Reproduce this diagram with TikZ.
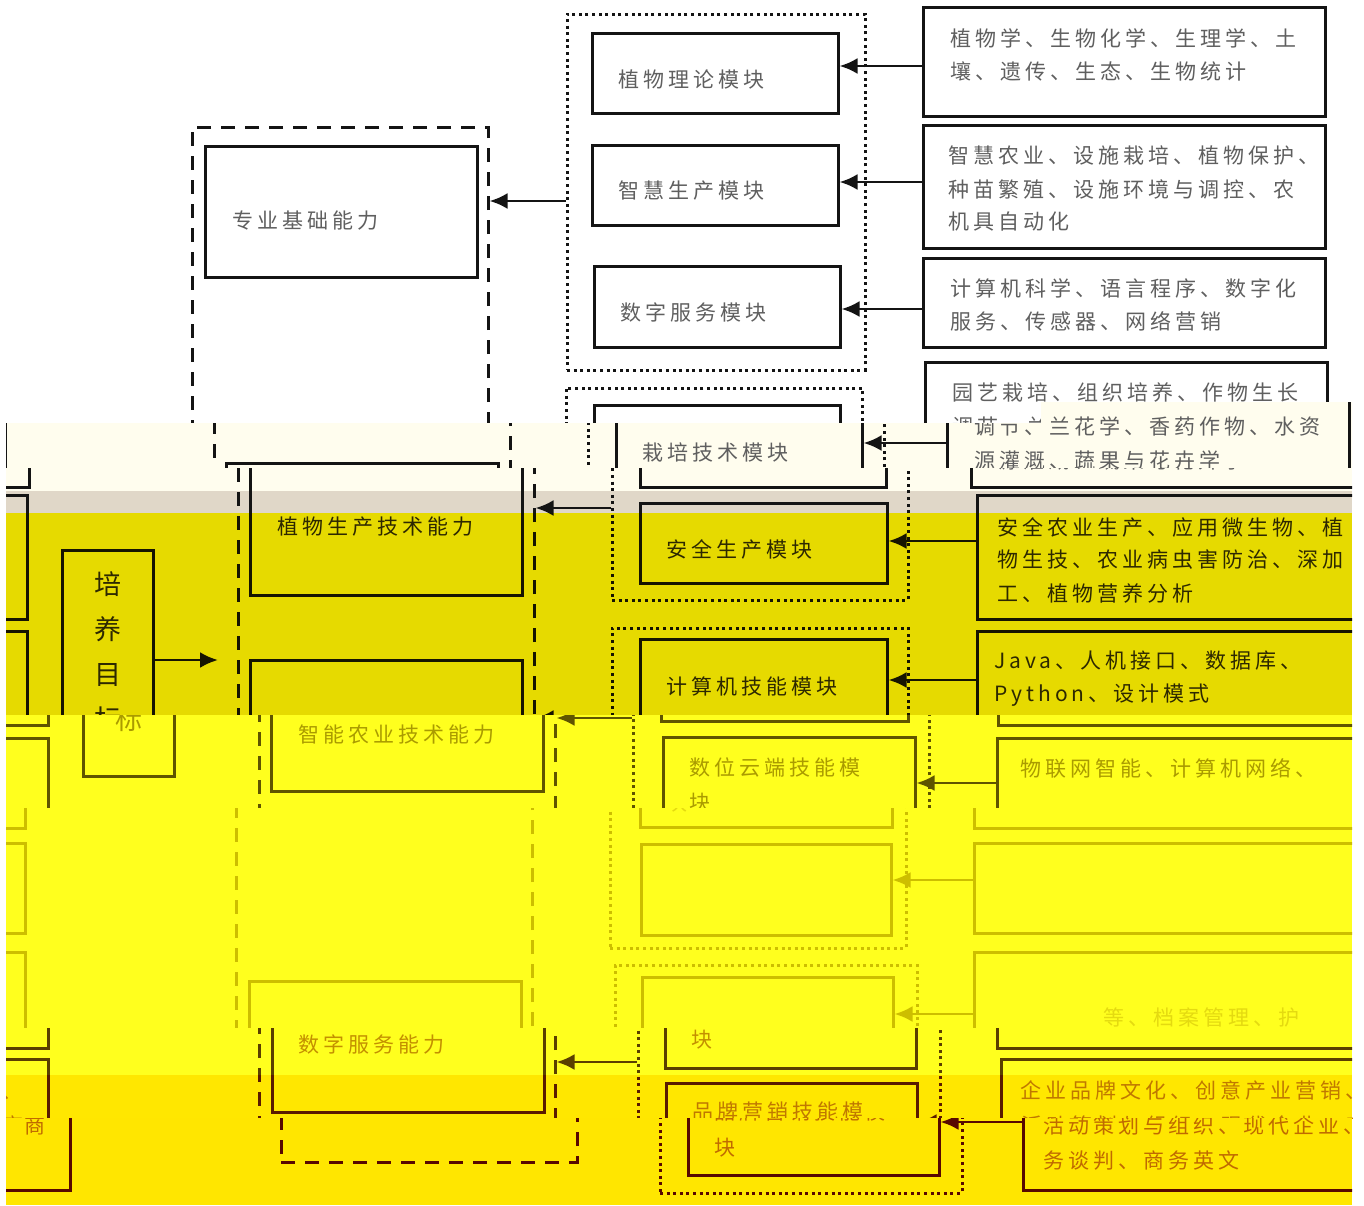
\documentclass[tikz,border=0pt]{standalone}
\usepackage{fontspec}
\usetikzlibrary{arrows.meta}
\newfontfamily\cjk[LetterSpace=19]{Noto Sans CJK SC}
\newfontfamily\cjkg{Noto Sans CJK SC}
\colorlet{sc}{black}
\colorlet{tc}{black}
\definecolor{bgB}{RGB}{255,253,238}
\definecolor{bgC}{RGB}{224,215,200}
\definecolor{bgD}{RGB}{230,218,0}
\definecolor{bgE}{RGB}{255,255,30}
\definecolor{bgH}{RGB}{255,231,0}
\definecolor{bgI}{RGB}{255,230,0}
\definecolor{sA}{RGB}{20,20,20}
\definecolor{tA}{RGB}{95,95,95}
\definecolor{sD}{RGB}{22,20,0}
\definecolor{tD}{RGB}{45,40,0}
\definecolor{sE}{RGB}{95,84,0}
\definecolor{tE}{RGB}{170,155,0}
\definecolor{sF}{RGB}{205,190,0}
\definecolor{tF}{RGB}{228,218,16}
\definecolor{sG}{RGB}{90,63,0}
\definecolor{tG}{RGB}{195,144,0}
\definecolor{sH}{RGB}{90,26,0}
\definecolor{tH}{RGB}{192,120,0}
\definecolor{sI}{RGB}{88,8,0}
\definecolor{tI}{RGB}{192,106,0}
\tikzset{
  sbox/.style={draw=sc, line width=1.5pt},
  dbox/.style={draw=sc, line width=1.5pt, dash pattern=on 7pt off 5pt},
  gbox/.style={draw=sc, line width=1.5pt, dash pattern=on 1.5pt off 1.8pt},
  arr/.style={draw=sc, line width=1.4pt, -{Latex[length=9pt,width=8pt]}},
  txt/.style={font={\cjk\fontsize{10.5pt}{12pt}\selectfont}, text=tc, inner sep=0pt, anchor=west},
  gtxt/.style={font={\cjkg\fontsize{13.5pt}{22.5pt}\selectfont}, text=tc, inner sep=0pt, align=center},
}
% box: name, x1, y1, x2, y2, style
\newcommand\bx[6]{\node[#6, inner sep=0pt, minimum width={(#4-#2)*0.5pt}, minimum height={(#5-#3)*0.5pt}] (#1) at ({(#2+#4)/2},{(#3+#5)/2}) {};}
% text line: name, x, y, text
\newcommand\tl[4]{\node[txt] (#1) at (#2,#3) {#4};}
\newcommand\diag{%
\bx{ab}{192}{127}{488}{1162}{dbox}%
\bx{a1}{205}{146}{477}{277}{sbox}%
\bx{a2}{204}{463}{476}{595}{sbox}%
\bx{a3}{204}{660}{476}{791}{sbox}%
\bx{a4}{205}{981}{477}{1112}{sbox}%
\tl{ta1}{232}{221}{专业基础能力}%
\tl{ta2}{231}{527}{植物生产技术能力}%
\tl{ta3}{231}{735}{智能农业技术能力}%
\tl{ta4}{231}{1044}{数字服务能力}%
\bx{goal}{16}{550}{107}{776}{sbox}%
\node[gtxt] (tgoal) at (61.5,652) {培\\养\\目\\标};%
\coordinate (gt) at (172,660);%
\draw[arr] (goal.east |- gt) -- (gt);%
\bx{g1}{567}{14}{865}{370}{gbox}%
\bx{g2}{566}{388}{862}{600}{gbox}%
\bx{g3}{566}{628}{862}{948}{gbox}%
\bx{g4}{571}{965}{873}{1193}{gbox}%
\draw[arr] (g1.west |- 0,201) -- (ab.east |- 0,201);%
\draw[arr] (g2.west |- 0,508) -- (ab.east |- 0,508);%
\draw[arr] (g3.west |- 0,718) -- (ab.east |- 0,718);%
\draw[arr] (g4.west |- 0,1062) -- (ab.east |- 0,1062);%
\bx{m1}{592}{33}{838}{113}{sbox}%
\bx{m2}{592}{145}{838}{225}{sbox}%
\bx{m3}{594}{266}{840}{347}{sbox}%
\bx{m4}{594}{405}{840}{487}{sbox}%
\bx{m5}{594}{503}{841}{583}{sbox}%
\bx{m6}{594}{639}{841}{721}{sbox}%
\bx{m7}{596}{737}{848}{827}{sbox}%
\bx{m8}{597}{844}{847}{935}{sbox}%
\bx{m9}{598}{977}{849}{1068}{sbox}%
\bx{m10}{599}{1083}{850}{1175}{sbox}%
\tl{tm1}{618}{79}{植物理论模块}%
\tl{tm2}{618}{191}{智慧生产模块}%
\tl{tm3}{620}{312}{数字服务模块}%
\tl{tm4}{620}{452}{栽培技术模块}%
\tl{tm5}{620}{549}{安全生产模块}%
\tl{tm6}{620}{686}{计算机技能模块}%
\tl{tm7a}{622}{767}{数位云端技能模}%
\tl{tm7b}{622}{803}{块}%
\tl{tm9b}{624}{1040}{块}%
\tl{tm10a}{625}{1112}{品牌营销技能模}%
\tl{tm10b}{625}{1148}{块}%
\bx{r1}{923}{7}{1325}{116}{sbox}%
\bx{r2}{923}{125}{1325}{248}{sbox}%
\bx{r3}{923}{258}{1325}{347}{sbox}%
\bx{r4}{925}{362}{1327}{487}{sbox}%
\bx{r5}{931}{495}{1325}{619}{sbox}%
\bx{r6}{931}{631}{1325}{725}{sbox}%
\bx{r7}{930}{738}{1325}{828}{sbox}%
\bx{r8}{930}{843}{1325}{933}{sbox}%
\bx{r9}{930}{952}{1325}{1048}{sbox}%
\bx{r10}{934}{1059}{1325}{1190}{sbox}%
\tl{tr1a}{950}{38}{植物学、生物化学、生理学、土}%
\tl{tr1b}{950}{71}{壤、遗传、生态、生物统计}%
\tl{tr2a}{948}{155}{智慧农业、设施栽培、植物保护、}%
\tl{tr2b}{948}{189}{种苗繁殖、设施环境与调控、农}%
\tl{tr2c}{948}{222}{机具自动化}%
\tl{tr3a}{950}{288}{计算机科学、语言程序、数字化}%
\tl{tr3b}{950}{321}{服务、传感器、网络营销}%
\tl{tr4a}{952}{392}{园艺栽培、组织培养、作物生长}%
\tl{tr4b}{952}{426}{调节、兰花学、香药作物、水资}%
\tl{tr4c}{952}{460}{源灌溉、蔬果与花卉学}%
\tl{tr5a}{951}{527}{安全农业生产、应用微生物、植}%
\tl{tr5b}{951}{560}{物生技、农业病虫害防治、深加}%
\tl{tr5c}{951}{593}{工、植物营养分析}%
\tl{tr6a}{948}{661}{Java、人机接口、数据库、}%
\tl{tr6b}{948}{695}{Python、设计模式}%
\tl{tr7a}{953}{768}{物联网智能、计算机网络、}%
\tl{tr9b}{1059}{1017}{等、档案管理、护}%
\tl{tr10a}{953}{1090}{企业品牌文化、创意产业营销、}%
\tl{tr10b}{954}{1125}{活动策划与组织、现代企业、商}%
\tl{tr10c}{954}{1160}{务谈判、商务英文}%
\draw[arr] (r1.west |- 0,66) -- (m1.east |- 0,66);%
\draw[arr] (r2.west |- 0,182) -- (m2.east |- 0,182);%
\draw[arr] (r3.west |- 0,309) -- (m3.east |- 0,309);%
\draw[arr] (r4.west |- 0,443) -- (m4.east |- 0,443);%
\draw[arr] (r5.west |- 0,541) -- (m5.east |- 0,541);%
\draw[arr] (r6.west |- 0,680) -- (m6.east |- 0,680);%
\draw[arr] (r7.west |- 0,783) -- (m7.east |- 0,783);%
\draw[arr] (r8.west |- 0,880) -- (m8.east |- 0,880);%
\draw[arr] (r9.west |- 0,1014) -- (m9.east |- 0,1014);%
\draw[arr] (r10.west |- 0,1122) -- (m10.east |- 0,1122);%
}
% band: region path, shift(px), stroke colour, text colour, background
\newcommand\band[5]{%
\begin{scope}
\fill[fill=#5] #1;
\clip #1;
\colorlet{sc}{#3}\colorlet{tc}{#4}%
\begin{scope}[xshift={(#2)*0.5pt}]\diag\end{scope}
\begin{scope}[xshift={(#2-1344)*0.5pt}]\diag\end{scope}
\end{scope}}
\begin{document}
\begin{tikzpicture}[x=0.5pt,y=-0.5pt]
\useasboundingbox (0,0) rectangle (1364,1205);
\fill[white] (0,0) rectangle (1364,1205);
\band{(0,0) rectangle (1364,402) (0,402) rectangle (1041,423)}{0}{sA}{tA}{white}
\band{(1041,402) rectangle (1352,423) (6,423) rectangle (1352,468)}{22}{sA}{tA}{bgB}
\band{(6,468) rectangle (1352,491)}{46}{sA}{tA}{bgB}
\band{(6,491) rectangle (1352,513)}{46}{sA}{tA}{bgC}
\band{(6,513) rectangle (1352,715)}{46}{sD}{tD}{bgD}
\band{(6,715) rectangle (1352,808)}{67}{sE}{tE}{bgE}
\band{(6,808) rectangle (1352,1028)}{44}{sF}{tF}{bgE}
\band{(6,1028) rectangle (1352,1075)}{67}{sG}{tG}{bgE}
\band{(6,1075) rectangle (1352,1118)}{67}{sH}{tH}{bgH}
\band{(6,1118) rectangle (1352,1205)}{89}{sI}{tI}{bgI}
\end{tikzpicture}
\end{document}
